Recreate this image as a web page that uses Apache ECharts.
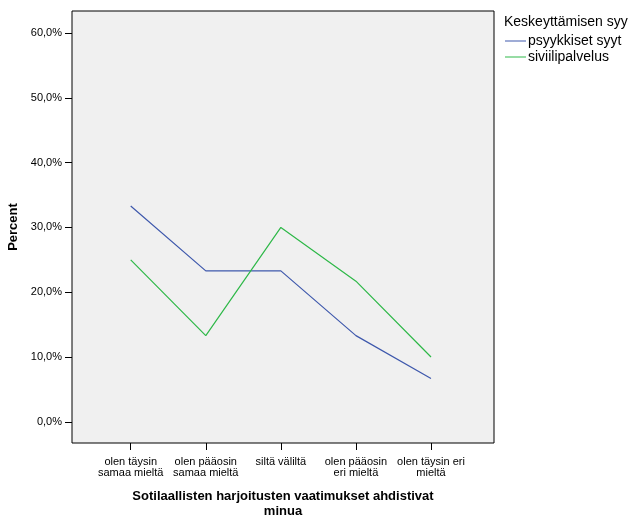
<!DOCTYPE html>
<html><head><meta charset="utf-8">
<script src="https://cdn.jsdelivr.net/npm/echarts@6/dist/echarts.min.js"></script>
<style>html,body{margin:0;padding:0;background:#fff}#c{width:630px;height:516px}</style>
</head><body><div id="c"></div>
<script>
var categories = ["olen täysin\nsamaa mieltä", "olen pääosin\nsamaa mieltä", "siltä väliltä", "olen pääosin\neri mieltä", "olen täysin eri\nmieltä"];
var seriesNames = ["psyykkiset syyt", "siviilipalvelus"];
var psyykkiset = [33.3, 23.3, 23.3, 13.3, 6.7];
var siviilipalvelus = [25.0, 13.3, 30.0, 21.7, 10.0];
var yTicks = [0, 10, 20, 30, 40, 50, 60];

var font = "'Liberation Sans', Arial, sans-serif";
function pts(arr){ return arr.map(function(v,i){ return [i, v]; }); }
var xIdx = categories.map(function(c,i){ return i; });

var chart = echarts.init(document.getElementById('c'), null, {renderer:'canvas'});
chart.setOption({
  animation: false,
  backgroundColor: '#ffffff',
  textStyle: {fontFamily: font},
  grid: {left: 72, top: 11, width: 422, height: 432, containLabel: false, outerBoundsMode: 'none', show: true, backgroundColor: '#f0f0f0', borderColor: '#000', borderWidth: 1},
  xAxis: {
    type: 'value', min: -0.782, max: 4.839,
    name: 'Sotilaallisten harjoitusten vaatimukset ahdistivat\nminua',
    nameLocation: 'middle', nameGap: 46,
    nameTextStyle: {fontFamily: font, fontWeight: 'bold', fontSize: 13, color: '#000', lineHeight: 15},
    axisLine: {show: false, onZero: false},
    splitLine: {show: false},
    axisTick: {show: true, length: 7, customValues: xIdx, lineStyle: {color: '#000', width: 1}},
    axisLabel: {customValues: xIdx, margin: 13, fontFamily: font, fontSize: 11, color: '#000', lineHeight: 11,
      formatter: function(v){ return categories[Math.round(v)]; }}
  },
  yAxis: {
    type: 'value', min: -3.27, max: 63.4,
    name: 'Percent', nameLocation: 'middle', nameGap: 51, nameRotate: 90,
    nameTextStyle: {fontFamily: font, fontWeight: 'bold', fontSize: 13, color: '#000'},
    axisLine: {show: false, onZero: false},
    splitLine: {show: false},
    axisTick: {show: true, length: 7, customValues: yTicks, lineStyle: {color: '#000', width: 1}},
    axisLabel: {customValues: yTicks, margin: 10, fontFamily: font, fontSize: 11, color: '#000',
      formatter: function(v){ return v.toFixed(1).replace('.', ',') + '%'; }}
  },
  legend: {
    left: 505, top: 34, orient: 'vertical', itemGap: 2, padding: 0,
    itemWidth: 21, itemHeight: 14,
    icon: 'path://M0,7L21,7L21,8L0,8Z',
    textStyle: {fontFamily: font, fontSize: 14, color: '#000', padding: [0,0,0,-3]},
    data: seriesNames
  },
  graphic: [{type: 'text', left: 504, top: 15, style: {text: 'Keskeyttämisen syy', font: '14px ' + font, fill: '#000'}}],
  series: [
    {name: seriesNames[0], type: 'line', data: pts(psyykkiset), symbol: 'none', lineStyle: {color: '#3e58ac', width: 1.2}, itemStyle: {color: '#3e58ac'}},
    {name: seriesNames[1], type: 'line', data: pts(siviilipalvelus), symbol: 'none', lineStyle: {color: '#2eb848', width: 1.2}, itemStyle: {color: '#2eb848'}}
  ]
});
</script></body></html>
